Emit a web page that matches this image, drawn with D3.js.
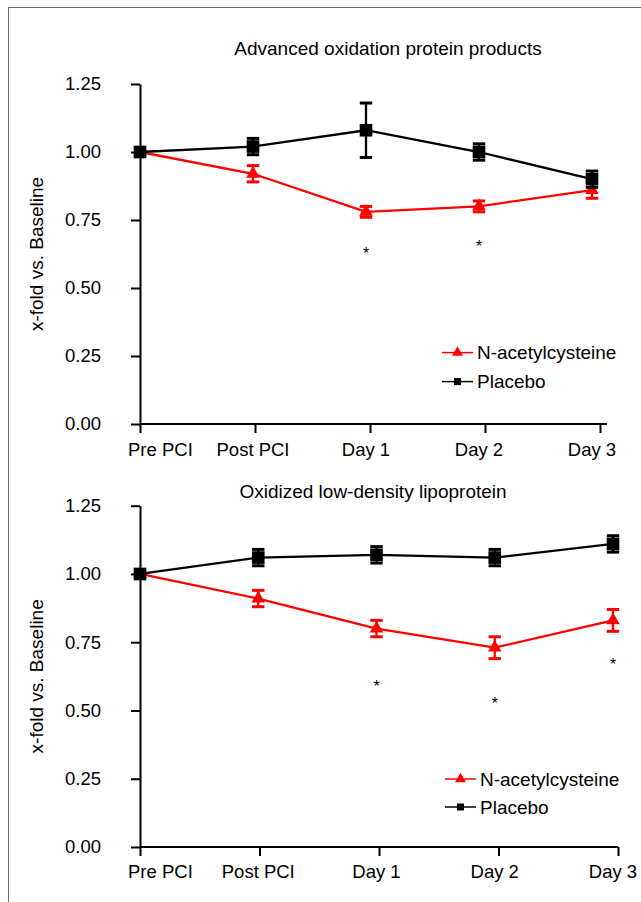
<!DOCTYPE html>
<html><head><meta charset="utf-8">
<script src="https://cdn.jsdelivr.net/npm/d3@7"></script>
<style>
html,body{margin:0;padding:0;background:#fff;}
svg{display:block;}
text{font-family:"Liberation Sans", Arial, Helvetica, sans-serif;fill:#000;}
</style>
</head><body>
<svg id="c" width="641" height="902"></svg>
<script>
// ---- data ----
const categories = ["Pre PCI", "Post PCI", "Day 1", "Day 2", "Day 3"];
const yTicks = [0, 0.25, 0.5, 0.75, 1.0, 1.25];
const seriesNames = ["N-acetylcysteine", "Placebo"];

const aoppTitle = "Advanced oxidation protein products";
const aoppNAC = [1.00, 0.92, 0.78, 0.80, 0.86];
const aoppNACErr = [0, 0.03, 0.02, 0.02, 0.03];
const aoppPlacebo = [1.00, 1.02, 1.08, 1.00, 0.90];
const aoppPlaceboErr = [0, 0.03, 0.10, 0.03, 0.03];
const aoppSig = ["Day 1", "Day 2"];
const aoppSigY = [0.64, 0.665];

const oxldlTitle = "Oxidized low-density lipoprotein";
const oxldlNAC = [1.00, 0.91, 0.80, 0.73, 0.83];
const oxldlNACErr = [0, 0.03, 0.03, 0.04, 0.04];
const oxldlPlacebo = [1.00, 1.06, 1.07, 1.06, 1.11];
const oxldlPlaceboErr = [0, 0.03, 0.03, 0.03, 0.03];
const oxldlSig = ["Day 1", "Day 2", "Day 3"];
const oxldlSigY = [0.60, 0.54, 0.68];

const yLabel = "x-fold vs. Baseline";

// ---- layout ----
const panels = [
  {title: aoppTitle, nac: aoppNAC, nacErr: aoppNACErr, pla: aoppPlacebo, plaErr: aoppPlaceboErr,
   sig: aoppSig, sigY: aoppSigY,
   L: {top: 84, bottom: 424, left: 140, pointEnd: 592, tickEnd: 600, axisEnd: 607,
       titleX: 388, titleY: 55, legX: 442, legY: 352.6, legGap: 29, labelDy: 32}},
  {title: oxldlTitle, nac: oxldlNAC, nacErr: oxldlNACErr, pla: oxldlPlacebo, plaErr: oxldlPlaceboErr,
   sig: oxldlSig, sigY: oxldlSigY,
   L: {top: 505.7, bottom: 847, left: 140, pointEnd: 613, tickEnd: 618, axisEnd: 618,
       titleX: 373, titleY: 498, legX: 445, legY: 779, legGap: 28, labelDy: 31}}
];

const svg = d3.select("#c");
const RED = "#ff0000", BLACK = "#000000";
const FONT = 18.5;

// page border
svg.append("rect").attr("x", 8.5).attr("y", 7.5).attr("width", 700).attr("height", 1000)
  .attr("fill", "none").attr("stroke", "#6e6e6e").attr("stroke-width", 1);

const triSym = d3.symbol().type(d3.symbolTriangle);
const sqSym = d3.symbol().type(d3.symbolSquare);

panels.forEach(p => {
  const L = p.L;
  const g = svg.append("g");
  const y = d3.scaleLinear().domain([0, 1.25]).range([L.bottom, L.top]);
  const x = d3.scalePoint().domain(categories).range([L.left, L.pointEnd]);
  const xt = d3.scalePoint().domain(categories).range([L.left, L.tickEnd]);

  // title
  g.append("text").attr("x", L.titleX).attr("y", L.titleY).attr("text-anchor", "middle")
    .style("font-size", "19px").text(p.title);

  // y label
  g.append("text")
    .attr("transform", `translate(43,${(L.top + L.bottom) / 2}) rotate(-90)`)
    .attr("text-anchor", "middle").style("font-size", "19px").text(yLabel);

  // y axis
  const ya = g.append("g").attr("transform", `translate(${L.left},0)`)
    .call(d3.axisLeft(y).tickValues(yTicks).tickSize(9).tickSizeOuter(0).tickPadding(30)
      .tickFormat(d3.format(".2f")));
  ya.selectAll("path,line").attr("stroke", BLACK).attr("stroke-width", 2);
  ya.selectAll("text").style("font-size", FONT + "px").attr("font-family", null);

  // x axis
  g.append("line").attr("x1", L.left).attr("x2", L.axisEnd)
    .attr("y1", y(0)).attr("y2", y(0)).attr("stroke", BLACK).attr("stroke-width", 2);
  const xa = g.append("g").attr("transform", `translate(0,${y(0)})`)
    .call(d3.axisBottom(xt).tickSize(9).tickSizeOuter(0).tickFormat(""));
  xa.select(".domain").remove();
  xa.selectAll("line").attr("stroke", BLACK).attr("stroke-width", 2);
  g.selectAll(".xlab").data(categories).enter().append("text")
    .attr("x", d => x(d)).attr("dx", (d, i) => i === 0 ? -12 : 0)
    .attr("y", y(0) + L.labelDy)
    .attr("text-anchor", (d, i) => i === 0 ? "start" : "middle")
    .style("font-size", FONT + "px").text(d => d);

  // series
  const series = [
    {vals: p.nac, err: p.nacErr, color: RED, sym: "tri"},
    {vals: p.pla, err: p.plaErr, color: BLACK, sym: "sq"}
  ];
  const line = d3.line().x((d, i) => x(categories[i])).y(d => y(d));
  series.forEach(s => {
    const sg = g.append("g");
    sg.append("path").datum(s.vals).attr("d", line).attr("fill", "none")
      .attr("stroke", s.color).attr("stroke-width", 2.3);
    s.vals.forEach((v, i) => {
      const e = s.err[i];
      const cx = x(categories[i]);
      if (e > 0) {
        sg.append("line").attr("x1", cx).attr("x2", cx).attr("y1", y(v - e)).attr("y2", y(v + e))
          .attr("stroke", s.color).attr("stroke-width", 2.3);
        [v - e, v + e].forEach(ev => {
          sg.append("line").attr("x1", cx - 6.2).attr("x2", cx + 6.2).attr("y1", y(ev)).attr("y2", y(ev))
            .attr("stroke", s.color).attr("stroke-width", 3);
        });
      }
      sg.append("path")
        .attr("d", s.sym === "tri" ? triSym.size(80)() : sqSym.size(160)())
        .attr("transform", `translate(${cx},${y(v)})`).attr("fill", s.color);
    });
  });

  // significance asterisks
  p.sig.forEach((c, i) => {
    g.append("text").attr("x", x(c)).attr("y", y(p.sigY[i])).attr("dy", "0.57em")
      .attr("text-anchor", "middle").style("font-size", "16px").text("*");
  });

  // legend
  series.forEach((s, i) => {
    const ly = L.legY + i * L.legGap;
    g.append("line").attr("x1", L.legX).attr("x2", L.legX + 31).attr("y1", ly).attr("y2", ly)
      .attr("stroke", s.color).attr("stroke-width", 1.5);
    g.append("path")
      .attr("d", s.sym === "tri" ? triSym.size(52)() : sqSym.size(49)())
      .attr("transform", `translate(${L.legX + 15.5},${ly})`).attr("fill", s.color);
    g.append("text").attr("x", L.legX + 35).attr("y", ly).attr("dy", "0.36em")
      .style("font-size", "19px").text(seriesNames[i]);
  });
});
</script>
</body></html>
